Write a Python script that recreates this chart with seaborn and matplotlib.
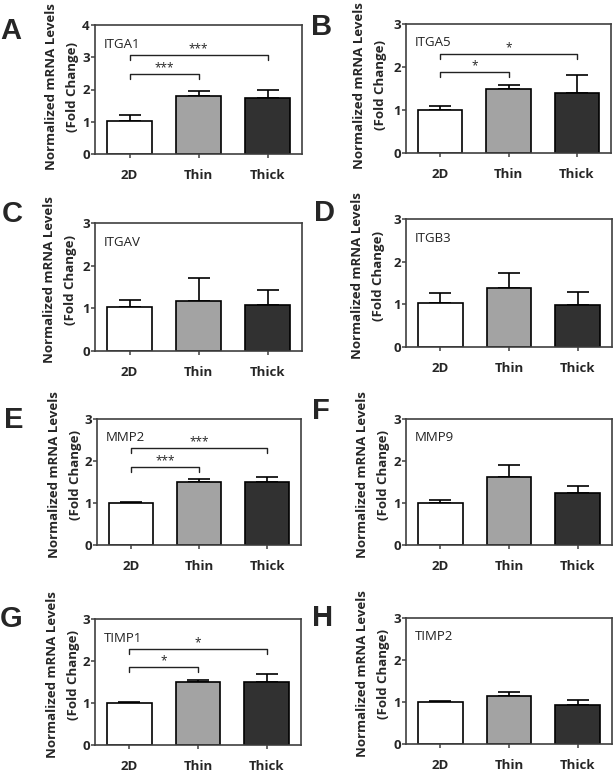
import numpy as np
import pandas as pd
import seaborn as sns
import matplotlib.pyplot as plt

# ---- data ----
categories = ["2D", "Thin", "Thick"]
genes = ["ITGA1", "ITGA5", "ITGAV", "ITGB3", "MMP2", "MMP9", "TIMP1", "TIMP2"]
letters = ["A", "B", "C", "D", "E", "F", "G", "H"]

mean_itga1 = [1.02, 1.80, 1.75]
err_itga1 = [0.20, 0.15, 0.25]
mean_itga5 = [1.00, 1.49, 1.40]
err_itga5 = [0.10, 0.08, 0.41]
mean_itgav = [1.02, 1.17, 1.08]
err_itgav = [0.17, 0.53, 0.36]
mean_itgb3 = [1.04, 1.38, 0.98]
err_itgb3 = [0.22, 0.35, 0.32]
mean_mmp2 = [1.00, 1.50, 1.49]
err_mmp2 = [0.03, 0.07, 0.12]
mean_mmp9 = [1.00, 1.61, 1.24]
err_mmp9 = [0.06, 0.30, 0.17]
mean_timp1 = [0.99, 1.49, 1.50]
err_timp1 = [0.04, 0.06, 0.18]
mean_timp2 = [0.99, 1.15, 0.94]
err_timp2 = [0.04, 0.09, 0.10]

# significance: (2D vs Thin, 2D vs Thick)
sig_itga1 = ["***", "***"]
sig_itga5 = ["*", "*"]
sig_mmp2 = ["***", "***"]
sig_timp1 = ["*", "*"]

means = [mean_itga1, mean_itga5, mean_itgav, mean_itgb3,
         mean_mmp2, mean_mmp9, mean_timp1, mean_timp2]
errs = [err_itga1, err_itga5, err_itgav, err_itgb3,
        err_mmp2, err_mmp9, err_timp1, err_timp2]
sigs = [sig_itga1, sig_itga5, None, None, sig_mmp2, None, sig_timp1, None]
ymax = [4, 3, 3, 3, 3, 3, 3, 3]

# ---- layout (pixels: left, top, right, bottom) ----
W, H = 615, 772
rects = [(95, 25, 302, 154), (406, 24, 611, 153),
         (95, 223, 302, 351), (406, 219, 612, 347),
         (97, 419, 301, 545), (406, 419, 612, 545),
         (95, 619, 301, 745), (406, 618, 612, 744)]
letter_pos = [(11, 31), (322, 27), (12, 214), (324, 213),
              (14, 420), (321, 411), (11, 619), (323, 618)]
label_x = [62, 370, 60, 368, 65, 373, 63, 373]
label_shift = [3, 3, 7, 7, 7, 7, 7, 7]  # px above axes centre
# bracket heights (lower, upper) in data units
bracket_y = [(2.48, 3.07), (1.88, 2.30), None, None,
             (1.86, 2.30), None, (1.85, 2.28), None]

palette = {"2D": "white", "Thin": "#a3a3a3", "Thick": "#313131"}
spine_col = "#404040"

sns.set_style("ticks")
plt.rcParams['font.family'] = ['Open Sans', 'DejaVu Sans']

fig = plt.figure(figsize=(W / 100, H / 100), dpi=100)

for i in range(8):
    l, t, r, b = rects[i]
    ax = fig.add_axes([l / W, 1 - b / H, (r - l) / W, (b - t) / H])
    df = pd.DataFrame({"condition": categories, "value": means[i]})
    sns.barplot(data=df, x="condition", y="value", hue="condition",
                palette=palette, edgecolor="black", linewidth=1.2,
                width=0.65, errorbar=None, legend=False, ax=ax, zorder=2)
    ax.errorbar(np.arange(3), means[i], yerr=[[0, 0, 0], errs[i]], fmt="none",
                ecolor="black", elinewidth=1.2, capsize=8, capthick=1.2,
                zorder=1)
    ax.set_ylim(0, ymax[i])
    ax.set_xlim(-0.5, 2.5)
    ax.set_yticks(range(ymax[i] + 1))
    for s in ax.spines.values():
        s.set_visible(True)
        s.set_color(spine_col)
        s.set_linewidth(1.2)
    ax.tick_params(axis="x", length=3, width=1.1, color=spine_col, pad=7.5,
                   labelsize=9.5)
    ax.tick_params(axis="y", length=3, width=1.1, color=spine_col, pad=0.8,
                   labelsize=9.5)
    for lab in ax.get_xticklabels() + ax.get_yticklabels():
        lab.set_fontweight("bold")
    ax.set_xlabel("")
    ax.set_ylabel("Normalized mRNA Levels\n(Fold Change)", fontsize=9.5,
                  fontweight="bold", linespacing=1.85, va="center")
    ax.yaxis.set_label_coords(label_x[i] / W,
                              1 - ((t + b) / 2 - label_shift[i]) / H,
                              transform=fig.transFigure)
    ax.annotate(genes[i], xy=(0, 1), xycoords="axes fraction",
                xytext=(9, -19), textcoords="offset pixels",
                va="center", ha="left", fontsize=9.5, color="#222222")

    if sigs[i] is not None:
        ylo, yhi = bracket_y[i]
        drop = 4.7 / (b - t) * ymax[i]
        for (x2, y, s) in [(1, ylo, sigs[i][0]), (2, yhi, sigs[i][1])]:
            ax.plot([0, 0, x2, x2], [y - drop, y, y, y - drop],
                    color="#222222", lw=1.0)
            ax.annotate(s, xy=(x2 / 2, y), xytext=(0, 3),
                        textcoords="offset pixels", ha="center",
                        va="baseline", fontsize=8.5, color="#222222")

    lx, ly = letter_pos[i]
    fig.text(lx / W, 1 - ly / H, letters[i], ha="center", va="center",
             fontsize=21, fontweight="bold", family="Liberation Sans")

fig.savefig("out.png", dpi=100)
